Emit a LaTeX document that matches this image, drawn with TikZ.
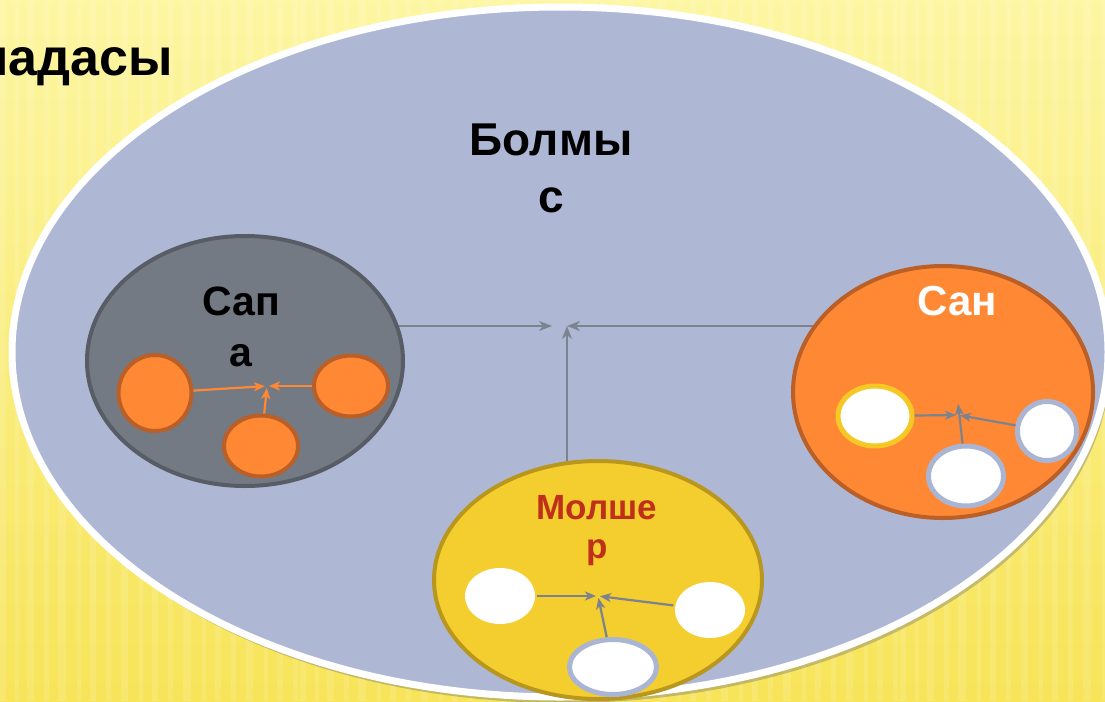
\documentclass[tikz,border=0pt]{standalone}
\usepackage{fontspec}
\setmainfont{Liberation Sans}
\usepackage{tikz}
\usetikzlibrary{
    positioning,
    arrows.meta,
    shapes.geometric,
    shadows
}
\definecolor{bolmysblue}{HTML}{AEB8D4}
\definecolor{sapagray}{HTML}{747A84}
\definecolor{sapaedge}{HTML}{575C65}
\definecolor{sanorange}{HTML}{FE8834}
\definecolor{sanedge}{HTML}{B95F27}
\definecolor{molyellow}{HTML}{F4CD2E}
\definecolor{moledge}{HTML}{B9971F}
\definecolor{moltext}{HTML}{BF301B}
\definecolor{ringblue}{HTML}{A9B5D3}
\definecolor{ringyellow}{HTML}{F6C824}
\definecolor{linkgray}{HTML}{7C838F}
\definecolor{bgtop}{HTML}{FDF6A2}
\definecolor{bgbottom}{HTML}{F7E459}

\pgfdeclarelayer{back}
\pgfdeclarelayer{mid}
\pgfsetlayers{back,mid,main}

\tikzset{
    group_ellipse/.style={
        ellipse, draw, line width=4pt, inner sep=0pt
    },
    small_ellipse/.style={
        ellipse, inner sep=0pt, line width=4pt
    },
    label_text/.style={
        align=center, inner sep=0pt, anchor=base
    },
    main_arrow/.style={
        -{Stealth[length=13pt, width=10pt, inset=4pt]}, line width=2pt, draw=linkgray
    },
    inner_arrow/.style={
        -{Stealth[length=11pt, width=9pt, inset=3pt]}, line width=2.2pt, shorten >=2pt
    }
}

\begin{document}
\begin{tikzpicture}[x=1pt, y=-1pt]
    \useasboundingbox (0,0) rectangle (1105,701);

    \begin{pgfonlayer}{back}
      \clip (0,0) rectangle (1105,701);
      \shade[top color=bgtop, bottom color=bgbottom] (0,0) rectangle (1105,701);
      \foreach \sx/\sw in {0/6,15/4,27/7,44/5,58/8,77/4,90/6,106/5,121/7,139/4,152/6,168/5,183/8,202/4,215/6,231/5,246/7,264/4,277/6,293/5}
        \foreach \sk in {0,300,600,900}
          \fill[white, opacity=0.13] (\sx+\sk,0) rectangle ++(\sw,701);
      \node[label_text, anchor=base east, font=\bfseries\fontsize{52}{62}\selectfont] (title_tail) at (173,75) {надасы};
      \node[ellipse, fill=bolmysblue, draw=white, line width=7pt, minimum width=1096pt, minimum height=690pt,
            drop shadow={shadow xshift=3pt, shadow yshift=-6pt, opacity=0.35, fill=black!60}] (bolmys) at (560,352) {};
    \end{pgfonlayer}

    \node[label_text, font=\bfseries\fontsize{46}{57}\selectfont] (bolmys_label) at (551,212) {Болмы\\с};

    % three groups
    \node[group_ellipse, fill=sapagray, draw=sapaedge, minimum width=316pt, minimum height=250pt] (sapa) at (245,361) {};
    \node[group_ellipse, fill=sanorange, draw=sanedge, minimum width=300pt, minimum height=252pt] (san) at (943,392) {};
    \node[group_ellipse, fill=molyellow, draw=moledge, minimum width=328pt, minimum height=238pt] (molsher) at (598,580) {};

    \node[label_text, font=\bfseries\fontsize{41}{51}\selectfont] (sapa_label) at (241,366) {Сап\\а};
    \node[label_text, font=\bfseries\fontsize{42}{50}\selectfont, text=white] (san_label) at (957,315) {Сан};
    \node[label_text, font=\bfseries\fontsize{35}{39}\selectfont, text=moltext] (molsher_label) at (597,558) {Молше\\р};

    \coordinate (main_hub) at (567,326);
    \begin{pgfonlayer}{mid}
      \draw[main_arrow, shorten >=15pt] (main_hub -| sapa.center) -- (main_hub);
      \draw[main_arrow] (main_hub -| san.center) -- (main_hub);
      \draw[main_arrow] (main_hub |- molsher.center) -- (main_hub);
    \end{pgfonlayer}

    \node[small_ellipse, fill=sanorange, draw=sanedge, minimum width=73pt, minimum height=76pt] (sapa_left) at (155,393) {};
    \node[small_ellipse, fill=sanorange, draw=sanedge, minimum width=74pt, minimum height=61pt] (sapa_right) at (351,386) {};
    \node[small_ellipse, fill=sanorange, draw=sanedge, minimum width=74pt, minimum height=61pt] (sapa_bottom) at (261,446) {};
    \coordinate (sapa_hub) at (267,386);
    \draw[inner_arrow, draw=sanorange] (sapa_left) -- (sapa_hub);
    \draw[inner_arrow, draw=sanorange] (sapa_right) -- (sapa_hub);
    \draw[inner_arrow, draw=sanorange] (sapa_bottom) -- (sapa_hub);

    \node[small_ellipse, fill=white, draw=ringyellow, line width=5pt, minimum width=74pt, minimum height=60pt] (san_left) at (875,416) {};
    \node[small_ellipse, fill=white, draw=ringblue, line width=5pt, minimum width=59pt, minimum height=59pt] (san_right) at (1047,431) {};
    \node[small_ellipse, fill=white, draw=ringblue, line width=5pt, minimum width=75pt, minimum height=60pt] (san_bottom) at (966,476) {};
    \coordinate (san_hub) at (958,415);
    \coordinate (san_tip) at (958,402);
    \draw[inner_arrow, draw=linkgray] (san_left) -- (san_hub);
    \draw[inner_arrow, draw=linkgray] (san_right) -- (san_hub);
    \draw[inner_arrow, draw=linkgray] (san_bottom) -- (san_tip);

    \node[small_ellipse, fill=white, minimum width=70pt, minimum height=56pt] (mol_left) at (500,596) {};
    \node[small_ellipse, fill=white, minimum width=70pt, minimum height=56pt] (mol_right) at (710,610) {};
    \node[small_ellipse, fill=white, draw=ringblue, line width=5pt, minimum width=87pt, minimum height=55pt] (mol_bottom) at (613,667) {};
    \coordinate (mol_hub) at (598,596);
    \draw[inner_arrow, draw=linkgray] (mol_left) -- (mol_hub);
    \draw[inner_arrow, draw=linkgray] (mol_right) -- (mol_hub);
    \draw[inner_arrow, draw=linkgray] (mol_bottom) -- (mol_hub);

\end{tikzpicture}
\end{document}
